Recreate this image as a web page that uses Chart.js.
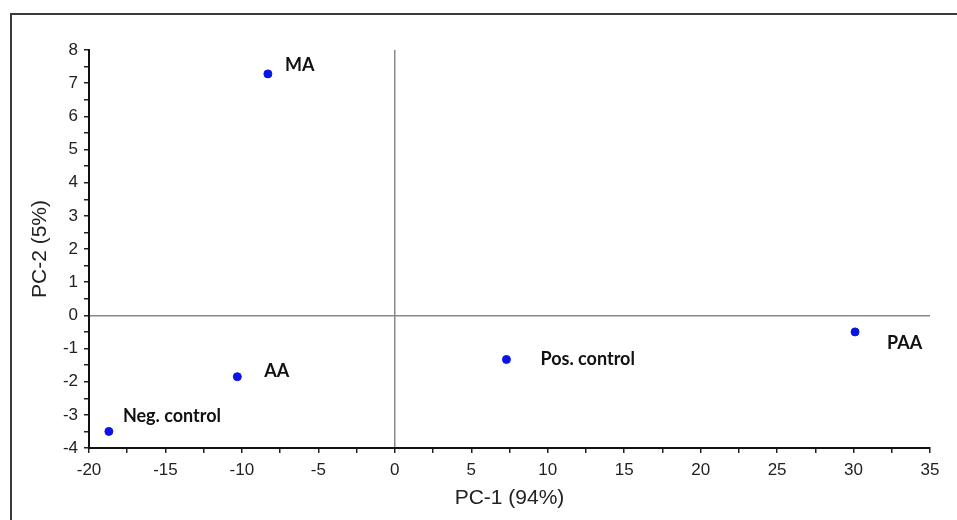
<!DOCTYPE html>
<html>
<head>
<meta charset="utf-8">
<script src="https://cdn.jsdelivr.net/npm/chart.js@4.4.1/dist/chart.umd.min.js"></script>
<style>
  html, body { margin: 0; padding: 0; background: #fff; }
  #wrap { position: relative; width: 957px; height: 520px; }
</style>
</head>
<body>
<div id="wrap"><canvas id="pca"></canvas></div>
<script>
// PCA scores
const sampleNames = ['MA', 'AA', 'Neg. control', 'Pos. control', 'PAA'];
const pc1Scores = [-8.3, -10.3, -18.7, 7.3, 30.1];
const pc2Scores = [7.28, -1.85, -3.5, -1.33, -0.5];

const xTicks = { min: -20, max: 35, major: 5, minor: 2.5 };
const yTicks = { min: -4, max: 8, major: 1, minor: 0.5 };

// label placement relative to each point (px)
const labelOffsets = [[17, -9], [27, -6], [14, -15], [34, 0], [32, 11]];

const tickFont = { family: '"Liberation Sans", Arial, sans-serif', size: 17 };
const titleFont = { family: '"Liberation Sans", Arial, sans-serif', size: 21 };

const zeroLine = ctx => ctx.tick && ctx.tick.value === 0 ? '#8a8a8a' : 'rgba(0,0,0,0)';

const pointLabels = {
  id: 'pointLabels',
  afterDatasetsDraw(chart) {
    const { ctx } = chart;
    const meta = chart.getDatasetMeta(0);
    ctx.save();
    ctx.font = 'bold 18px Lato, "Open Sans", sans-serif';
    ctx.fillStyle = '#111';
    ctx.textBaseline = 'middle';
    ctx.textAlign = 'left';
    meta.data.forEach((pt, i) => {
      const [dx, dy] = labelOffsets[i];
      ctx.fillText(sampleNames[i], pt.x + dx, pt.y + dy);
    });
    ctx.restore();
  }
};

// outer frame, only top and left edges are visible in the figure
const frame = {
  id: 'frame',
  beforeDraw(chart) {
    const { ctx } = chart;
    ctx.save();
    ctx.strokeStyle = '#3a3a3a';
    ctx.lineWidth = 2;
    ctx.beginPath();
    ctx.moveTo(11, 530);
    ctx.lineTo(11, 14);
    ctx.lineTo(970, 14);
    ctx.stroke();
    ctx.restore();
  }
};

new Chart(document.getElementById('pca'), {
  type: 'scatter',
  data: {
    datasets: [{
      data: pc1Scores.map((x, i) => ({ x, y: pc2Scores[i] })),
      backgroundColor: '#0a14e6',
      borderColor: '#0a14e6',
      pointRadius: 4,
      pointHoverRadius: 4
    }]
  },
  options: {
    responsive: true,
    maintainAspectRatio: false,
    animation: false,
    layout: { padding: { top: 50, right: 27, left: 0, bottom: 0 } },
    plugins: { legend: { display: false }, tooltip: { enabled: false } },
    scales: {
      x: {
        type: 'linear',
        min: xTicks.min,
        max: xTicks.max,
        afterFit(scale) { scale.height = 72; },
        ticks: {
          stepSize: xTicks.minor,
          autoSkip: false,
          maxRotation: 0,
          color: '#222',
          font: tickFont,
          padding: 7,
          callback: v => (v % xTicks.major === 0 ? v : '')
        },
        grid: { color: zeroLine, lineWidth: 1.5, tickLength: 5, tickColor: '#222', tickWidth: 1.5 },
        border: { display: true, color: '#111', width: 2 },
        title: { display: true, text: 'PC-1 (94%)', color: '#222', font: titleFont, padding: { top: 0, bottom: 9 } }
      },
      y: {
        type: 'linear',
        min: yTicks.min,
        max: yTicks.max,
        afterFit(scale) { scale.width = 89; },
        ticks: {
          stepSize: yTicks.minor,
          autoSkip: false,
          color: '#222',
          font: tickFont,
          padding: 6,
          callback: v => (v % yTicks.major === 0 ? v : '')
        },
        grid: { color: zeroLine, lineWidth: 1.5, tickLength: 5, tickColor: '#222', tickWidth: 1.5 },
        border: { display: true, color: '#111', width: 2 },
        title: { display: true, text: 'PC-2 (5%)', color: '#222', font: titleFont, padding: { top: 28, bottom: 0 } }
      }
    }
  },
  plugins: [frame, pointLabels]
});
</script>
</body>
</html>
